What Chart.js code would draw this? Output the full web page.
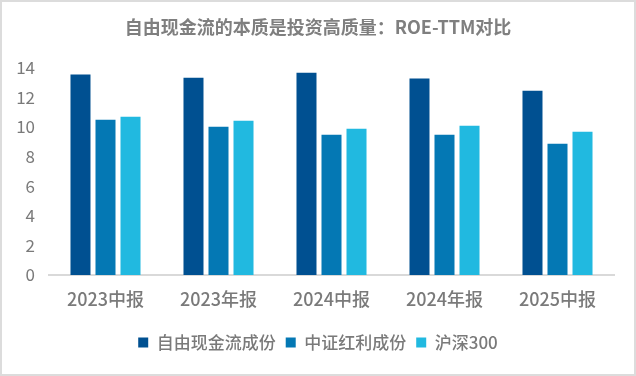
<!DOCTYPE html>
<html>
<head>
<meta charset="utf-8">
<script src="https://cdn.jsdelivr.net/npm/chart.js@4"></script>
<style>
  html, body { margin: 0; padding: 0; background: #fff; }
  #wrap {
    width: 636px; height: 376px; box-sizing: border-box;
    border: 2px solid #dcdcdc; background: #fff;
  }
  canvas { display: block; }
</style>
</head>
<body>
<div id="wrap"><canvas id="c" width="632" height="372"></canvas></div>
<script>
/* ROE-TTM por periodo: valores (en %). */
const categories = ['2023中报', '2023年报', '2024中报', '2024年报', '2025中报'];
const seriesNames = ['自由现金流成份', '中证红利成份', '沪深300'];
const fcfRoe      = [13.53, 13.32, 13.66, 13.26, 12.44];
const dividendRoe = [10.48, 10.01, 9.47, 9.47, 8.86];
const hs300Roe    = [10.69, 10.42, 9.87, 10.07, 9.67];
const yTicks      = [0, 2, 4, 6, 8, 10, 12, 14];

const COLORS = ['#005091', '#0478b4', '#21b9e0'];
const TEXT   = '#7a7a7a';
const FONT   = '"Noto Sans CJK SC", "Noto Sans", sans-serif';

const ctx = document.getElementById('c').getContext('2d');

new Chart(ctx, {
  type: 'bar',
  data: {
    labels: categories,
    datasets: [fcfRoe, dividendRoe, hs300Roe].map((data, i) => ({
      label: seriesNames[i],
      data,
      backgroundColor: COLORS[i],
      categoryPercentage: 0.664,
      barPercentage: 0.8,
    })),
  },
  options: {
    responsive: false, animation: false,
    layout: { padding: { left: 10, right: 10, top: 0, bottom: 13 } },
    plugins: {
      title: {
        display: true,
        text: '自由现金流的本质是投资高质量：ROE-TTM对比',
        color: '#7f7f7f',
        font: { family: FONT, size: 18, weight: 'bold' },
        padding: { top: 14, bottom: 30 },
      },
      legend: {
        position: 'bottom',
        labels: {
          color: TEXT, boxWidth: 10, boxHeight: 10, padding: 10,
          font: { family: FONT, size: 17, weight: 500 },
        },
      },
      tooltip: { enabled: false },
    },
    scales: {
      x: {
        grid: { display: false },
        border: { display: true, color: '#d9d9d9', width: 2 },
        ticks: { color: TEXT, padding: 5, font: { family: FONT, size: 18, weight: 500 } },
        afterFit: s => { s.height = 49; },
      },
      y: {
        min: 0, max: 14,
        grid: { display: false, drawTicks: false },
        border: { display: false },
        afterBuildTicks: s => { s.ticks = yTicks.map(v => ({ value: v })); },
        ticks: { color: TEXT, padding: 14, font: { family: FONT, size: 17 } },
        afterFit: s => { s.width = 37; },
      },
      /* eje fantasma a la derecha: deja el hueco sin descentrar título/leyenda */
      yRight: {
        position: 'right',
        grid: { display: false, drawTicks: false },
        border: { display: false },
        ticks: { display: false },
        afterFit: s => { s.width = 10; },
      },
    },
  },
});
</script>
</body>
</html>
